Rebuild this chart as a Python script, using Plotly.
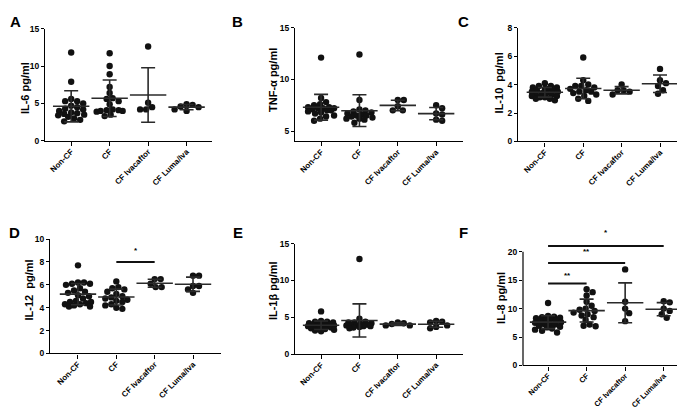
import numpy as np
import plotly.graph_objects as go

# ---------------- data ----------------
GROUPS = ["Non-CF", "CF", "CF Ivacaftor", "CF Luma/Iva"]

IL6_NONCF = [11.8, 7.9, 5.6, 5.3, 5.3, 5.0, 4.7, 4.5, 4.3, 4.2, 4.0, 3.8, 3.7, 3.6, 3.5, 3.4, 3.2, 3.0, 2.8, 2.6]
IL6_CF = [11.7, 10.0, 8.9, 7.2, 6.4, 5.7, 5.6, 5.3, 4.9, 4.2, 4.1, 4.1, 4.0, 4.0, 3.9, 3.5, 3.3]
IL6_IVA = [12.6, 5.1, 4.5, 4.2, 4.2]
IL6_LUMA = [4.9, 4.8, 4.6, 4.5, 4.2, 4.0]

TNF_NONCF = [12.1, 8.2, 7.8, 7.5, 7.6, 7.3, 7.2, 7.3, 7.2, 7.2, 7.1, 7.0, 7.0, 6.9, 6.8, 6.7, 6.5, 6.4, 6.2, 6.0]
TNF_CF = [12.4, 8.0, 7.1, 7.0, 6.9, 6.8, 6.7, 6.6, 6.5, 6.5, 6.4, 6.3, 6.2, 6.2, 6.1, 5.8]
TNF_IVA = [8.0, 8.0, 7.4, 7.0, 7.0]
TNF_LUMA = [7.5, 7.2, 6.7, 6.6, 6.1, 6.0]

IL10_NONCF = [4.1, 3.9, 3.9, 3.8, 3.8, 3.7, 3.7, 3.6, 3.6, 3.5, 3.5, 3.4, 3.4, 3.3, 3.3, 3.2, 3.2, 3.1, 3.1, 3.0, 3.0, 2.9]
IL10_CF = [5.9, 4.3, 4.0, 3.9, 3.9, 3.8, 3.7, 3.6, 3.5, 3.5, 3.4, 3.3, 3.2, 3.0, 2.85]
IL10_IVA = [4.0, 3.6, 3.6, 3.5, 3.3]
IL10_LUMA = [5.1, 4.3, 4.1, 3.9, 3.6, 3.35]

IL12_NONCF = [7.7, 6.2, 6.2, 6.1, 6.1, 6.0, 5.7, 5.5, 5.4, 5.3, 5.1, 5.0, 4.8, 4.6, 4.5, 4.5, 4.4, 4.3, 4.3, 4.2, 4.1, 4.1]
IL12_CF = [6.3, 5.8, 5.7, 5.6, 5.4, 5.2, 5.0, 4.9, 4.8, 4.7, 4.6, 4.5, 4.3, 4.2, 4.0, 3.9]
IL12_IVA = [6.5, 6.5, 6.1, 5.8, 5.8]
IL12_LUMA = [6.8, 6.8, 5.9, 5.9, 5.6, 5.3]

IL1B_NONCF = [5.8, 4.5, 4.4, 4.4, 4.3, 4.2, 4.1, 4.0, 4.0, 3.9, 3.9, 3.8, 3.8, 3.7, 3.7, 3.6, 3.6, 3.5, 3.4, 3.3, 3.2, 3.1]
IL1B_CF = [12.9, 4.8, 4.4, 4.3, 4.3, 4.2, 4.1, 4.0, 4.0, 3.9, 3.9, 3.8, 3.8, 3.7, 3.6, 3.5]
IL1B_IVA = [4.3, 4.2, 4.1, 3.9, 3.9]
IL1B_LUMA = [4.5, 4.4, 4.3, 3.9, 3.7, 3.5]

IL8_NONCF = [11.0, 8.7, 8.6, 8.5, 8.4, 8.3, 8.2, 8.0, 7.9, 7.8, 7.6, 7.5, 7.4, 7.3, 7.2, 7.0, 6.8, 6.7, 6.5, 6.3, 6.1, 5.8]
IL8_CF = [13.4, 12.9, 12.3, 11.2, 10.5, 10.0, 9.8, 9.6, 9.3, 9.0, 8.8, 8.5, 8.0, 7.2, 7.0, 6.9]
IL8_IVA = [16.9, 11.2, 10.0, 9.2, 7.8]
IL8_LUMA = [11.3, 11.1, 10.0, 9.6, 9.0, 8.4]

# significance brackets: (group from, group to, bar height, label)
SIG_D = [(1, 2, 8.0, "*")]
SIG_F = [(0, 1, 14.4, "**"), (0, 2, 18.0, "**"), (0, 3, 21.0, "*")]

# ---------------- layout ----------------
W, H = 685, 410
FONT = "Liberation Sans"
INK = "#000000"
DOT = "#111111"
LINE = "#2a2a2a"

panels = [
    dict(letter="A", title="IL-6 pg/ml", data=[IL6_NONCF, IL6_CF, IL6_IVA, IL6_LUMA],
         yr=(0, 15), yt=[0, 5, 10, 15], axtop=15, xpx=(37, 204), ypx=(16, 131), xr=(-0.68, 3.66),
         lxy=(7, 9), tshift=-20, tpos=0.47, sig=[], sigy=[], xfs=8),
    dict(letter="B", title="TNF-\u03b1 pg/ml", data=[TNF_NONCF, TNF_CF, TNF_IVA, TNF_LUMA],
         yr=(4, 15), yt=[5, 10, 15], axtop=15, xpx=(287, 455), ypx=(15, 131.6), xr=(-0.68, 3.7),
         lxy=(230, 9), tshift=-22, tpos=0.54, sig=[], sigy=[], xfs=8),
    dict(letter="C", title="IL-10  pg/ml", data=[IL10_NONCF, IL10_CF, IL10_IVA, IL10_LUMA],
         yr=(0, 8), yt=[0, 2, 4, 6, 8], axtop=8, xpx=(510, 685), ypx=(15, 131.7), xr=(-0.7, 3.86),
         lxy=(455, 9), tshift=-19, tpos=0.51, sig=[], sigy=[], xfs=8),
    dict(letter="D", title="IL-12  pg/ml", data=[IL12_NONCF, IL12_CF, IL12_IVA, IL12_LUMA],
         yr=(0, 10), yt=[0, 2, 4, 6, 8, 10], axtop=10, xpx=(42, 213), ypx=(231.7, 349), xr=(-0.73, 3.73),
         lxy=(6, 225), tshift=-21, tpos=0.55, sig=SIG_D, sigy=[9.0], xfs=8),
    dict(letter="E", title="IL-1\u03b2 pg/ml", data=[IL1B_NONCF, IL1B_CF, IL1B_IVA, IL1B_LUMA],
         yr=(0, 15), yt=[0, 5, 10, 15], axtop=15, xpx=(287, 455), ypx=(236.3, 349.7), xr=(-0.68, 3.7),
         lxy=(230, 225), tshift=-22, tpos=0.57, sig=[], sigy=[], xfs=8),
    dict(letter="F", title="IL-8 pg/ml", data=[IL8_NONCF, IL8_CF, IL8_IVA, IL8_LUMA],
         yr=(0, 24), yt=[0, 5, 10, 15, 20], axtop=20, xpx=(515, 685), ypx=(221.4, 361.3), xr=(-0.65, 3.76),
         lxy=(455, 225), tshift=-22, tpos=0.495, sig=SIG_F, sigy=[15.9, 20.0, 23.4], xfs=7.5),
]


def swarm(vals, ppy, ppx, d=6.0, maxw=13):
    vals = np.asarray(vals, float)
    ys = vals * ppy
    order = np.argsort(-vals, kind="stable")
    cands = sorted(np.arange(-maxw, maxw + 0.5, 1.0), key=lambda c: (abs(c), -c))
    placed = []
    offs = np.zeros(len(vals))
    for i in order:
        best, bestd = 0.0, -1.0
        for c in cands:
            md = min((np.hypot(c - px, ys[i] - py) for px, py in placed), default=1e9)
            if md >= d:
                best = c
                break
            if md > bestd:
                bestd, best = md, c
        offs[i] = best
        placed.append((best, ys[i]))
    return offs / ppx


fig = go.Figure()
layout = dict(width=W, height=H, margin=dict(l=0, r=0, t=0, b=0),
              paper_bgcolor="white", plot_bgcolor="white", showlegend=False,
              font=dict(family=FONT, color=INK))
annotations = []
shapes = []

for k, p in enumerate(panels, start=1):
    xa = "x" if k == 1 else f"x{k}"
    ya = "y" if k == 1 else f"y{k}"
    xkey = "xaxis" if k == 1 else f"xaxis{k}"
    ykey = "yaxis" if k == 1 else f"yaxis{k}"
    x0, x1 = p["xpx"]
    yt0, yb0 = p["ypx"]
    xr, yr = p["xr"], p["yr"]
    ppx = (x1 - x0) / (xr[1] - xr[0])
    ppy = (yb0 - yt0) / (yr[1] - yr[0])
    ydom = [1 - yb0 / H, 1 - yt0 / H]

    for g, vals in enumerate(p["data"]):
        offs = swarm(vals, ppy, ppx)
        fig.add_trace(go.Scatter(
            x=g + offs, y=vals, mode="markers", xaxis=xa, yaxis=ya, cliponaxis=False,
            marker=dict(size=6.4, color=DOT, line=dict(width=0)), hoverinfo="skip"))
    for g, vals in enumerate(p["data"]):
        m = float(np.mean(vals))
        sd = float(np.std(vals, ddof=1))
        fig.add_trace(go.Scatter(
            x=[g], y=[m], mode="markers", xaxis=xa, yaxis=ya, cliponaxis=False,
            marker=dict(symbol="line-ew", size=26, color=LINE, line=dict(width=1.6, color=LINE)),
            error_y=dict(type="data", array=[sd], visible=True, width=7, thickness=1.6, color=LINE),
            hoverinfo="skip"))

    for (a, b, h, lab), sy in zip(p["sig"], p["sigy"]):
        fig.add_trace(go.Scatter(x=[a, b], y=[h, h], mode="lines", xaxis=xa, yaxis=ya,
                                 line=dict(color=DOT, width=2), hoverinfo="skip"))
        annotations.append(dict(x=(a + b) / 2, y=sy, xref=xa, yref=ya, text=lab, showarrow=False,
                                font=dict(size=8, family=FONT, weight="bold", color=INK),
                                xanchor="center", yanchor="middle"))

    full_line = p["axtop"] == yr[1]
    layout[xkey] = dict(domain=[x0 / W, x1 / W], range=list(xr), anchor=ya,
                        tickmode="array", tickvals=[0, 1, 2, 3], ticktext=GROUPS, tickangle=-45,
                        ticks="outside", ticklen=4, tickwidth=1.2, tickcolor=INK,
                        ticklabelstandoff=-2,
                        showline=True, linecolor=INK, linewidth=1.2,
                        showgrid=False, zeroline=False,
                        tickfont=dict(size=p["xfs"], family=FONT, weight="bold", color=INK))
    layout[ykey] = dict(domain=ydom, range=list(yr), anchor=xa,
                        tickmode="array", tickvals=p["yt"],
                        ticks="outside", ticklen=3, tickwidth=1.2, tickcolor=INK,
                        showline=full_line, linecolor=INK, linewidth=1.2,
                        showgrid=False, zeroline=False,
                        tickfont=dict(size=8.5, family=FONT, weight="bold", color=INK))
    if not full_line:
        ytop = ydom[0] + (p["axtop"] - yr[0]) / (yr[1] - yr[0]) * (ydom[1] - ydom[0])
        shapes.append(dict(type="line", xref="paper", yref="paper", x0=x0 / W, x1=x0 / W,
                           y0=ydom[0], y1=ytop, line=dict(color=INK, width=1.2)))

    annotations.append(dict(x=0, y=p["tpos"], xref=f"{xa} domain", yref=f"{ya} domain",
                            xshift=p["tshift"], text=p["title"], textangle=-90, showarrow=False,
                            xanchor="center", yanchor="middle",
                            font=dict(size=11, family=FONT, weight="bold", color=INK)))
    lx, ly = p["lxy"]
    annotations.append(dict(x=lx / W, y=1 - ly / H, xref="paper", yref="paper", text=p["letter"],
                            showarrow=False, xanchor="center", yanchor="middle",
                            font=dict(size=15, family=FONT, weight="bold", color=INK)))

layout["annotations"] = annotations
layout["shapes"] = shapes
fig.update_layout(**layout)
fig.write_html("out.html")
